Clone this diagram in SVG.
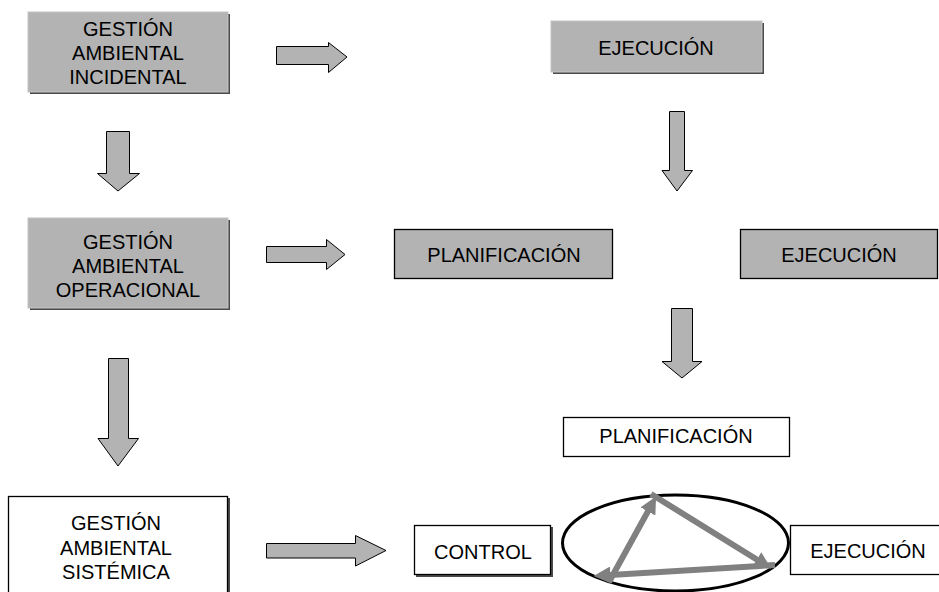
<svg xmlns="http://www.w3.org/2000/svg" width="939" height="592" viewBox="0 0 939 592">
  <style>
    text { font-family: "Liberation Sans", Arial, sans-serif; font-size: 20px; fill: #000; text-anchor: middle; }
    .shade { fill: #4a4a4a; }
    .soft { fill: #b3b3b3; stroke: #c4c4c4; stroke-width: 1; }
    .gray { fill: #b3b3b3; stroke: #000; stroke-width: 1.3; }
    .white { fill: #fff; stroke: #000; stroke-width: 1.3; }
    .block { fill: #b3b3b3; stroke: #000; stroke-width: 1; stroke-linejoin: miter; }
    .cycle { fill: none; stroke: #808080; stroke-width: 6; }
  </style>
  <defs>
    <marker id="head" viewBox="0 0 10 10" refX="5" refY="5" markerUnits="userSpaceOnUse" markerWidth="17" markerHeight="17" orient="auto">
      <path d="M0,0 L10,5 L0,10 z" fill="#808080"/>
    </marker>
  </defs>
  <rect width="939" height="592" fill="#fff"/>

  <!-- left column -->
  <g id="incidental">
    <rect class="shade" x="30" y="14" width="200" height="80"/>
    <rect class="soft" x="28" y="12" width="200" height="80"/>
    <text x="128" y="36">GESTIÓN</text>
    <text x="128" y="60">AMBIENTAL</text>
    <text x="128" y="84">INCIDENTAL</text>
  </g>
  <g id="operacional">
    <rect class="shade" x="30" y="220" width="200" height="90"/>
    <rect class="soft" x="28" y="218" width="200" height="90"/>
    <text x="128" y="249">GESTIÓN</text>
    <text x="128" y="273">AMBIENTAL</text>
    <text x="128" y="297">OPERACIONAL</text>
  </g>
  <g id="sistemica">
    <rect class="shade" x="10" y="498" width="220" height="100"/>
    <rect class="white" x="8.5" y="496.5" width="219" height="100"/>
    <text x="116" y="530">GESTIÓN</text>
    <text x="116" y="555">AMBIENTAL</text>
    <text x="116" y="579">SISTÉMICA</text>
  </g>

  <!-- right side stages -->
  <g id="ejecucion-1">
    <rect class="shade" x="553" y="23" width="211" height="51"/>
    <rect class="soft" x="551" y="21" width="211" height="51"/>
    <text x="656" y="55">EJECUCIÓN</text>
  </g>
  <g id="planificacion-1">
    <rect class="gray" x="394.5" y="229.5" width="218" height="49"/>
    <text x="504" y="262">PLANIFICACIÓN</text>
  </g>
  <g id="ejecucion-2">
    <rect class="gray" x="740.5" y="229.5" width="197" height="49"/>
    <text x="839" y="262">EJECUCIÓN</text>
  </g>
  <g id="planificacion-2">
    <rect class="white" x="563.5" y="417.5" width="226" height="39"/>
    <text x="676" y="443">PLANIFICACIÓN</text>
  </g>
  <g id="control">
    <rect class="shade" x="416" y="527" width="137" height="50"/>
    <rect class="white" x="414.5" y="525.5" width="136" height="49"/>
    <text x="483" y="559">CONTROL</text>
  </g>
  <g id="ejecucion-3">
    <rect class="white" x="790.5" y="525.5" width="160" height="49"/>
    <text x="868" y="558">EJECUCIÓN</text>
  </g>

  <!-- management cycle -->
  <g id="ciclo">
    <ellipse cx="675.5" cy="543" rx="113" ry="48" fill="none" stroke="#000" stroke-width="3"/>
    <line class="cycle" x1="609" y1="582" x2="652" y2="504" marker-end="url(#head)"/>
    <line class="cycle" x1="651" y1="494" x2="764" y2="564" marker-end="url(#head)"/>
    <line class="cycle" x1="775" y1="565" x2="602" y2="575.5" marker-end="url(#head)"/>
  </g>

  <!-- block arrows between stages -->
  <g id="connectors">
    <path class="block" d="M276.5,46.5 H328.5 V42.5 L347,57 L328.5,72.5 V64.5 H276.5 Z"/>
    <path class="block" d="M266.5,246.5 H326.5 V239.5 L345,254.5 L326.5,269.5 V262.5 H266.5 Z"/>
    <path class="block" d="M266.5,543.5 H355.5 V535.5 L386,550.5 L355.5,566 V558 H266.5 Z"/>
    <path class="block" d="M106.5,131.5 H129.5 V173.5 H139.5 L118,191 L97.5,173.5 H106.5 Z"/>
    <path class="block" d="M669.5,111.5 H684.5 V170.5 H692.5 L677,191 L662,170.5 H669.5 Z"/>
    <path class="block" d="M108.5,358.5 H128.5 V438.5 H138.5 L118,466 L98,438.5 H108.5 Z"/>
    <path class="block" d="M671.5,308.5 H692.5 V361.5 H702 L682,378 L662,361.5 H671.5 Z"/>
  </g>
</svg>
